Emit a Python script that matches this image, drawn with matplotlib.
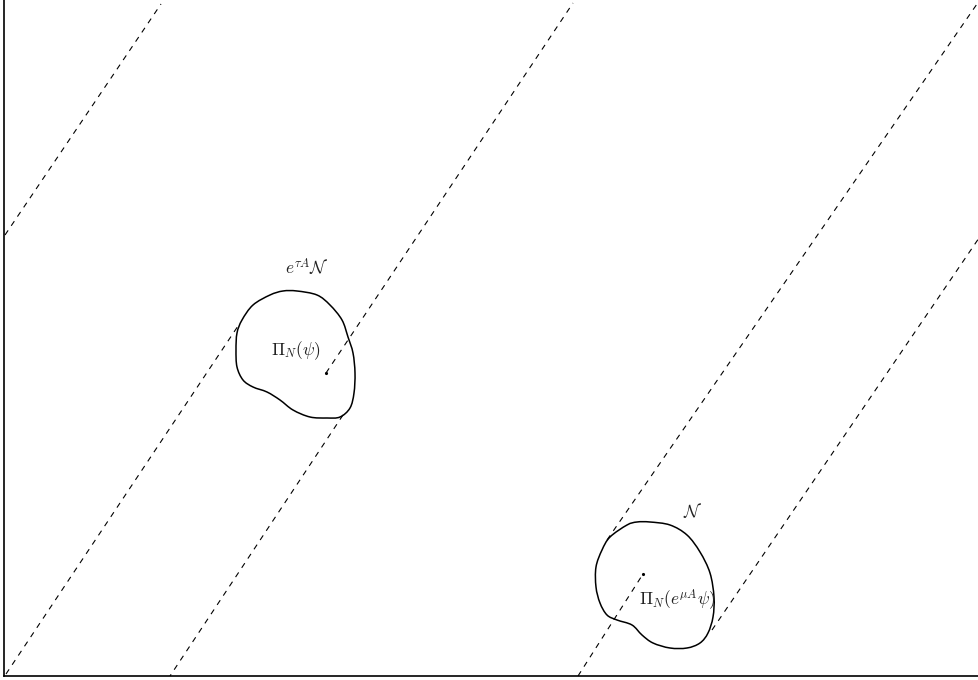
import numpy as np
import matplotlib.pyplot as plt
from matplotlib.path import Path
from matplotlib.patches import PathPatch

plt.rcParams['mathtext.fontset'] = 'cm'

#--------------------------------------------#
# outlines of the two neighbourhoods (x right, y down)
blob_left_x = [297, 317, 330, 342, 348, 353, 355, 354, 350, 340, 327, 310, 293, 280,
               267, 253, 243, 237, 236, 237, 242, 253, 270, 283]
blob_left_y = [291, 295, 305, 320, 337, 353, 373, 393, 408, 417, 418, 417, 410, 400,
               392, 387, 380, 367, 350, 333, 320, 305, 295, 291]

blob_right_x = [650, 670, 687, 700, 710, 714, 713, 708, 700, 687, 670, 653, 642, 632,
                617, 607, 600, 596, 596, 602, 610, 627, 637]
blob_right_y = [522, 525, 535, 552, 573, 597, 617, 633, 643, 648, 648, 643, 635, 625,
                620, 615, 603, 587, 567, 550, 537, 525, 522]

# dashed flow lines: (x0, y0, x1, y1)
flow_lines = [
    (5, 235, 161, 4),
    (6, 674, 240, 323),
    (326, 373, 573, 3),
    (343, 415, 170, 676),
    (578, 676, 643, 574),
    (607, 540, 977, 4),
    (712, 630, 979, 238),
]

# projected points
dots_x = [326, 643]
dots_y = [373, 574]

labels = [r'$e^{\tau A}\mathcal{N}$', r'$\Pi_N(\psi)$',
          r'$\mathcal{N}$', r'$\Pi_N(e^{\mu A}\psi)$']
labels_x = [307, 296, 693, 677]
labels_y = [268, 351, 512, 600]


def smooth_closed(xs, ys):
    # closed catmull-rom curve as cubic bezier path
    p = np.column_stack([xs, ys]).astype(float)
    n = len(p)
    verts = [p[0]]
    codes = [Path.MOVETO]
    for i in range(n):
        p0, p1, p2, p3 = p[i - 1], p[i], p[(i + 1) % n], p[(i + 2) % n]
        c1 = p1 + (p2 - p0) / 6
        c2 = p2 - (p3 - p1) / 6
        verts += [c1, c2, p2]
        codes += [Path.CURVE4] * 3
    return Path(verts, codes)


#--------------------------------------------#
fig = plt.figure(figsize=(9.79, 6.80), dpi=100)
ax = fig.add_axes([4 / 979, 4 / 680, 975 / 979, 676 / 680])
ax.set_xlim(4, 979)
ax.set_ylim(676, 0)
ax.set_xticks([])
ax.set_yticks([])
ax.spines['top'].set_visible(False)
ax.spines['right'].set_visible(False)
ax.spines['left'].set_linewidth(1.2)
ax.spines['bottom'].set_linewidth(1.2)

for x0, y0, x1, y1 in flow_lines:
    ax.plot([x0, x1], [y0, y1], color='k', lw=0.8, ls=(0, (5, 5)))

for bx, by in [(blob_left_x, blob_left_y), (blob_right_x, blob_right_y)]:
    ax.add_patch(PathPatch(smooth_closed(bx, by), fill=False, ec='k', lw=1.1))

ax.plot(dots_x, dots_y, 'k.', markersize=2.5)

for s, x, y in zip(labels, labels_x, labels_y):
    ax.text(x, y, s, fontsize=12.5, ha='center', va='center', color='#222222')

fig.savefig('out.png', dpi=100)
